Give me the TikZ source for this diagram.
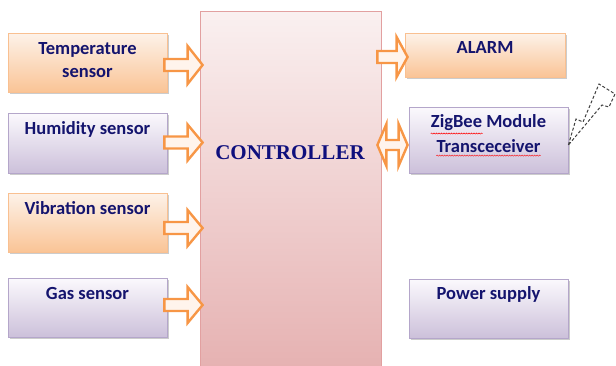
\documentclass[tikz,border=0pt]{standalone}
\usepackage{fontspec}
\setmainfont{Liberation Serif}
\newfontfamily\boxfont{Carlito}
\usetikzlibrary{shadows,calc,decorations.pathmorphing}
\definecolor{navy}{RGB}{20,20,110}
\definecolor{ctrltext}{RGB}{15,15,125}
\definecolor{orTop}{RGB}{253,242,233}
\definecolor{orBot}{RGB}{250,196,150}
\definecolor{orLine}{RGB}{249,192,145}
\definecolor{puTop}{RGB}{251,249,253}
\definecolor{puBot}{RGB}{204,192,218}
\definecolor{puLine}{RGB}{180,166,202}
\definecolor{ctTop}{RGB}{250,240,240}
\definecolor{ctBot}{RGB}{230,178,178}
\definecolor{ctLine}{RGB}{226,160,160}
\definecolor{arrLine}{RGB}{247,150,70}
\definecolor{arrFill}{RGB}{255,244,236}
\newcommand{\rblock}[5]{%
  \draw[blk] let \p1=(#1), \p2=(#2) in
    (\x1,\y1+#3) -- (\x2-#5,\y1+#3) -- (\x2-#5,\y1+#4) -- (\x2,\y1)
    -- (\x2-#5,\y1-#4) -- (\x2-#5,\y1-#3) -- (\x1,\y1-#3) -- cycle;}
\newcommand{\dblock}[5]{%
  \draw[blk] let \p1=(#1), \p2=(#2) in
    (\x1,\y1) -- (\x1+#5,\y1+#4) -- (\x1+#5,\y1+#3) -- (\x2-#5,\y1+#3)
    -- (\x2-#5,\y1+#4) -- (\x2,\y1) -- (\x2-#5,\y1-#4) -- (\x2-#5,\y1-#3)
    -- (\x1+#5,\y1-#3) -- (\x1+#5,\y1-#4) -- cycle;}
\tikzset{
  box/.style={draw, line width=0.8pt, minimum width=159pt, inner sep=0pt,
    drop shadow={shadow xshift=2pt,shadow yshift=-2pt,opacity=0.4}},
  obox/.style={box, draw=orLine, top color=orTop, bottom color=orBot},
  pbox/.style={box, draw=puLine, top color=puTop, bottom color=puBot},
  lbl/.style={font=\boxfont\bfseries\fontsize{18.5}{22}\selectfont, text=navy, inner sep=0pt, anchor=base},
  blk/.style={draw=arrLine, line width=2.4pt, fill=arrFill, line join=miter},
  spell/.style={draw=red, line width=0.4pt, decorate, decoration={snake, amplitude=0.6pt, segment length=2.5pt}}
}
\begin{document}
\begin{tikzpicture}[x=1pt,y=-1pt]
\useasboundingbox (0,0) rectangle (616,365);
% controller
\node[draw=ctLine, line width=0.8pt, top color=ctTop, bottom color=ctBot,
      minimum width=181pt, minimum height=355pt, inner sep=0pt] (ctrl) at (290.5,188.5) {};
\node[font=\bfseries\fontsize{21}{24}\selectfont, text=ctrltext, inner sep=0pt] (ctrltxt) at (290,152.5) {CONTROLLER};
% sensors
\node[obox, minimum height=59pt] (temp) at (87.5,62.5) {};
\node[pbox, minimum height=60pt] (hum)  at (87.5,143) {};
\node[obox, minimum height=59pt] (vib)  at (87.5,222.5) {};
\node[pbox, minimum height=59pt] (gas)  at (87.5,307.5) {};
\node[lbl] (tempA) at ($(temp.north)+(0,22)$) {Temperature};
\node[lbl] (tempB) at ($(temp.north)+(0,45)$) {sensor};
\node[lbl] (humA)  at ($(hum.north)+(0,22)$) {Humidity sensor};
\node[lbl] (vibA)  at ($(vib.north)+(0,22)$) {Vibration sensor};
\node[lbl] (gasA)  at ($(gas.north)+(0,22)$) {Gas sensor};
% outputs
\node[obox, minimum width=160pt, minimum height=44pt] (alarm) at (485,55) {};
\node[pbox, minimum height=66pt] (zig) at (488.5,140) {};
\node[pbox, minimum height=59pt] (pow) at (488.5,308.5) {};
\node[lbl] (alarmA) at ($(alarm.north)+(0,21)$) {ALARM};
\node[lbl] (zigA) at ($(zig.north)+(0,21)$) {ZigBee Module};
\node[lbl] (zigB) at ($(zig.north)+(0,46)$) {Transceceiver};
\node[lbl] (powA) at ($(pow.north)+(0,21)$) {Power supply};
\draw[spell] ($(zigA.base west)+(0,6)$) -- ($(zigA.base west)+(52,6)$);
\draw[spell] ($(zigB.base west)+(0,3)$) -- ($(zigB.base east)+(0,3)$);
% arrows in
\coordinate (a1s) at ($(temp.east)+(-3,2.5)$);
\coordinate (a1e) at ($(ctrl.west |- a1s)+(3,0)$);
\coordinate (a2s) at ($(hum.east)+(-3,-0.5)$);
\coordinate (a2e) at ($(ctrl.west |- a2s)+(3,0)$);
\coordinate (a3s) at ($(vib.east)+(-3,5.5)$);
\coordinate (a3e) at ($(ctrl.west |- a3s)+(3,0)$);
\coordinate (a4s) at ($(gas.east)+(-3,-2.5)$);
\coordinate (a4e) at ($(ctrl.west |- a4s)+(3,0)$);
\rblock{a1s}{a1e}{6pt}{19pt}{15pt}
\rblock{a2s}{a2e}{6pt}{18pt}{15pt}
\rblock{a3s}{a3e}{6pt}{18pt}{15pt}
\rblock{a4s}{a4e}{6pt}{18pt}{15pt}
% arrows out
\coordinate (a5s) at ($(ctrl.east)+(-4,0)$);
\coordinate (a5s) at (a5s |- 0,57);
\coordinate (a5e) at ($(alarm.west |- a5s)+(3,0)$);
\rblock{a5s}{a5e}{6pt}{20pt}{11pt}
\coordinate (a6s) at ($(ctrl.east)+(-4,0)$);
\coordinate (a6s) at (a6s |- 0,145);
\coordinate (a6e) at ($(zig.west |- a6s)+(-1,0)$);
\dblock{a6s}{a6e}{5pt}{21pt}{9pt}
% wireless bolt
\coordinate (bolt) at ($(zig.east)+(0,5)$);
\draw[dashed, dash pattern=on 3pt off 2pt, line width=1pt, draw=black!75]
  (bolt) -- (576,119) -- (583,122) -- (599,84) -- (615,94) -- (609,107) -- (602,105) -- cycle;
\end{tikzpicture}
\end{document}
